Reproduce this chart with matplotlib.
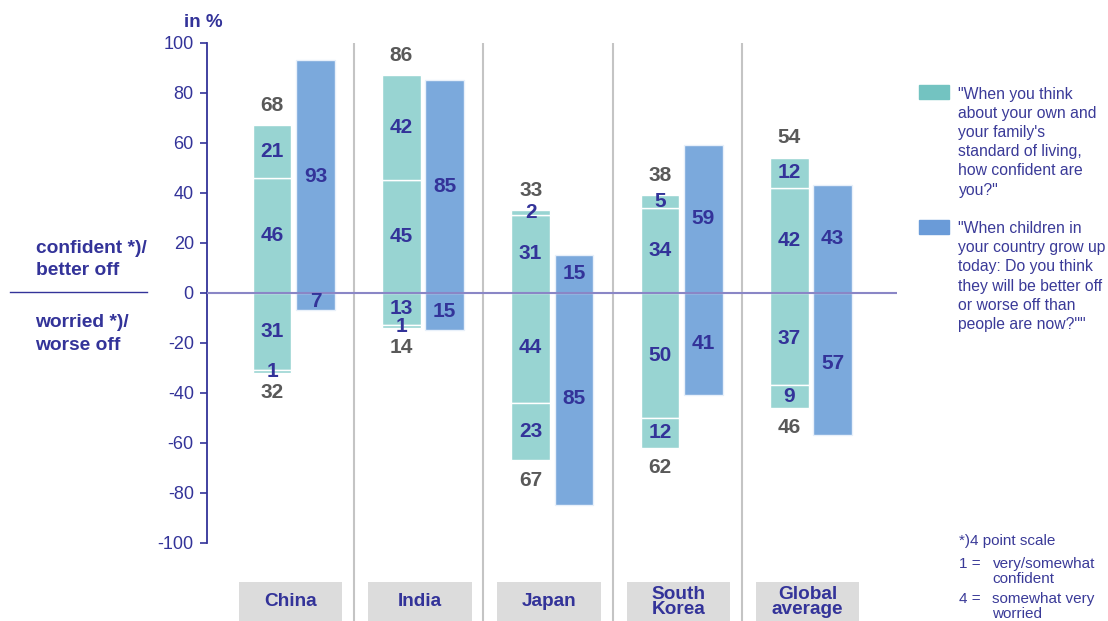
import matplotlib
matplotlib.use("Agg")
import matplotlib.pyplot as plt
import numpy as np

plt.rcParams['font.family'] = ['Liberation Sans', 'DejaVu Sans']

# ---------------- data ----------------
categories = ['China', 'India', 'Japan', 'South\nKorea', 'Global\naverage']
conf_pos_inner = [46, 45, 31, 34, 42]   # somewhat confident
conf_pos_outer = [21, 42, 2, 5, 12]     # very confident
conf_neg_inner = [31, 13, 44, 50, 37]   # somewhat worried
conf_neg_outer = [1, 1, 23, 12, 9]      # very worried
conf_pos_total = [68, 86, 33, 38, 54]
conf_neg_total = [32, 14, 67, 62, 46]
better_off = [93, 85, 15, 59, 43]
worse_off = [7, 15, 85, 41, 57]
yticks = [-100, -80, -60, -40, -20, 0, 20, 40, 60, 80, 100]

legend_conf = '"When you think\nabout your own and\nyour family\'s\nstandard of living,\nhow confident are\nyou?"'
legend_child = '"When children in\nyour country grow up\ntoday: Do you think\nthey will be better off\nor worse off than\npeople are now?""'

# ---------------- style ----------------
W, H = 1108, 621
NAVY = '#333399'
TXT = '#3A3A98'
GRAY = '#595959'
GREEN = '#98D4D2'
BLUE = '#7BA9DC'
GREEN_LEG = '#73C3C1'
BLUE_LEG = '#6A9BD8'

PX_PER_GROUP = 129.3
X0_PX = 293.75
Y0_PX = 292.7
PX_PER_UNIT = 2.5

fig = plt.figure(figsize=(W / 100, H / 100), dpi=100)
ax = fig.add_axes([0, 0, 1, 1])
ax.set_xlim(-X0_PX / PX_PER_GROUP, (W - X0_PX) / PX_PER_GROUP)
ax.set_ylim((Y0_PX - H) / PX_PER_UNIT, Y0_PX / PX_PER_UNIT)
ylo, yhi = ax.get_ylim()

def fx(px):
    return px / W

def fy(py):
    return 1 - py / H

axis_x = (207 - X0_PX) / PX_PER_GROUP
right_x = (897 - X0_PX) / PX_PER_GROUP

for s in ['top', 'right', 'bottom']:
    ax.spines[s].set_visible(False)
ax.spines['left'].set_position(('data', axis_x))
ax.spines['left'].set_bounds(-100, 100)
ax.spines['left'].set_color(NAVY)
ax.spines['left'].set_linewidth(1.3)
ax.set_yticks(yticks)
ax.set_yticklabels([str(v) for v in yticks])
ax.tick_params(axis='y', colors=NAVY, labelsize=13, length=5, width=1.2, pad=4.5)
ax.set_xticks([])
ax.patch.set_alpha(0)

x = np.arange(len(categories))
off = 0.168
bw = 0.30
xg = x - off
xb = x + off

# separators
for i in range(len(categories) - 1):
    ax.vlines(i + 0.466, ylo, 100, color='#C4C4C4', lw=1.5, zorder=1)

# green stacked bars
pi = np.array(conf_pos_inner)
po = np.array(conf_pos_outer)
ni = np.array(conf_neg_inner)
no = np.array(conf_neg_outer)
kw = dict(width=bw, color=GREEN, edgecolor='white', linewidth=1.0, zorder=2)
ax.bar(xg, pi, bottom=0, **kw)
ax.bar(xg, po, bottom=pi, **kw)
ax.bar(xg, -ni, bottom=0, **kw)
ax.bar(xg, -no, bottom=-ni, **kw)

# blue bars
kwb = dict(width=bw, color=BLUE, edgecolor='#E8F0FA', linewidth=1.0, zorder=2)
ax.bar(xb, better_off, bottom=0, **kwb)
ax.bar(xb, [-v for v in worse_off], bottom=0, **kwb)

# zero line
ax.hlines(0, axis_x, right_x, color='#8A86C6', lw=1.5, zorder=4)

lab = dict(ha='center', va='center', color=NAVY, fontsize=15, fontweight='bold', zorder=5)
for i in range(len(categories)):
    ax.text(xg[i], pi[i] / 2, str(pi[i]), **lab)
    ax.text(xg[i], pi[i] + po[i] / 2, str(po[i]), **lab)
    ax.text(xg[i], -ni[i] / 2, str(ni[i]), **lab)
    ax.text(xg[i], -ni[i] - no[i] / 2, str(no[i]), **lab)
    ax.text(xb[i], better_off[i] / 2, str(better_off[i]), **lab)
    ax.text(xb[i], -worse_off[i] / 2, str(worse_off[i]), **lab)
    ax.text(xg[i], pi[i] + po[i] + 8, str(conf_pos_total[i]), ha='center', va='center',
            color=GRAY, fontsize=15, fontweight='bold')
    ax.text(xg[i], -ni[i] - no[i] - 8, str(conf_neg_total[i]), ha='center', va='center',
            color=GRAY, fontsize=15, fontweight='bold')

# category boxes
box_top = (Y0_PX - 582) / PX_PER_UNIT
ax.bar(x - 0.025, ylo - 2 - box_top, bottom=box_top, width=0.80, color='#DCDCDC',
       zorder=3, clip_on=False)
for i, c in enumerate(categories):
    ax.text(x[i] - 0.025, (Y0_PX - 602) / PX_PER_UNIT, c, ha='center', va='center',
            color=NAVY, fontsize=13.7, fontweight='bold', linespacing=0.85, zorder=5)

# left annotations
fig.text(fx(184), fy(22.7), 'in %', color=NAVY, fontsize=13.5, fontweight='bold',
         ha='left', va='center')
fig.text(fx(35.5), fy(248.3), 'confident *)/', color=NAVY, fontsize=13.8,
         fontweight='bold', ha='left', va='center')
fig.text(fx(35.5), fy(270.7), 'better off', color=NAVY, fontsize=13.8,
         fontweight='bold', ha='left', va='center')
fig.text(fx(35.5), fy(322.7), 'worried *)/', color=NAVY, fontsize=13.8,
         fontweight='bold', ha='left', va='center')
fig.text(fx(35.5), fy(346), 'worse off', color=NAVY, fontsize=13.8,
         fontweight='bold', ha='left', va='center')
fig.add_artist(plt.Line2D([fx(10), fx(147)], [fy(291.5), fy(291.5)], color=NAVY, lw=1.0))

# legend
fig.add_artist(plt.Rectangle((fx(919), fy(99.3)), (949.3 - 919) / W, 14.3 / H,
                             color=GREEN_LEG, transform=fig.transFigure))
fig.add_artist(plt.Rectangle((fx(919), fy(234)), (949.3 - 919) / W, 14 / H,
                             color=BLUE_LEG, transform=fig.transFigure))
fig.text(fx(958.5), fy(86.5), legend_conf, color=TXT, fontsize=11.3, ha='left',
         va='top', linespacing=1.35)
fig.text(fx(958.5), fy(221), legend_child, color=TXT, fontsize=11.3, ha='left',
         va='top', linespacing=1.35)

# footnote
fig.text(fx(959), fy(540.7), '*)4 point scale', color=TXT, fontsize=11,
         ha='left', va='center')
fig.text(fx(959), fy(564), '1 =', color=TXT, fontsize=11, ha='left', va='center')
fig.text(fx(992.5), fy(557), 'very/somewhat\nconfident', color=TXT, fontsize=11,
         ha='left', va='top', linespacing=1.05)
fig.text(fx(959), fy(599.3), '4 =', color=TXT, fontsize=11, ha='left', va='center')
fig.text(fx(992.5), fy(592.3), 'somewhat very\nworried', color=TXT, fontsize=11,
         ha='left', va='top', linespacing=1.05)

fig.savefig('out.png', dpi=100)
